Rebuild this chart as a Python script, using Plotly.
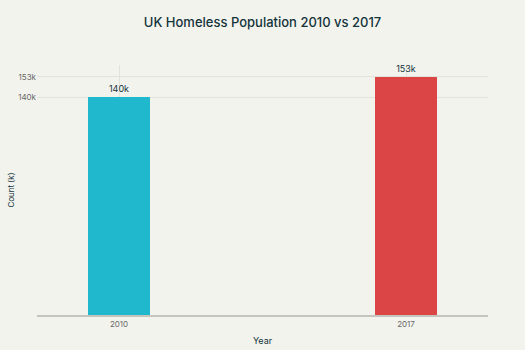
import plotly.graph_objects as go

years = [2010, 2017]
counts_k = [140, 153]
labels = ["140k", "153k"]
colors = ["#1FB8CD", "#DB4545"]
ytick_vals = [140, 153]
ytick_text = ["140k", "153k"]

fig = go.Figure()
fig.add_trace(go.Bar(
    x=years, y=counts_k, width=1.5,
    marker=dict(color=colors, line=dict(width=0)),
    text=labels, textposition="outside",
    textfont=dict(size=9, color="#13343B"),
    cliponaxis=False,
))
fig.update_layout(
    width=525, height=350,
    paper_bgcolor="#F3F3EE", plot_bgcolor="#F3F3EE",
    font=dict(family="Inter, Open Sans, sans-serif", color="#13343B"),
    title=dict(text="UK Homeless Population 2010 vs 2017", x=0.5, xanchor="center",
               y=0.937, yanchor="middle",
               font=dict(size=13, color="#13343B", weight=500)),
    margin=dict(l=37, r=37, t=65, b=35, autoexpand=False),
    showlegend=False,
    bargap=0,
)
fig.update_xaxes(
    range=[2008, 2019], tickvals=years, ticktext=[str(y) for y in years],
    showgrid=True, gridcolor="#E3E3DD", gridwidth=1,
    showline=True, linecolor="#C5C5BE", linewidth=2,
    ticks="", tickfont=dict(size=8, color="#666"),
    title=dict(text="Year", font=dict(size=9), standoff=10),
    zeroline=False, automargin=False,
)
fig.update_yaxes(
    range=[0, 160.6], tickvals=ytick_vals, ticktext=ytick_text,
    showgrid=True, gridcolor="#E3E3DD", gridwidth=1,
    showline=False, zeroline=False,
    ticks="", tickfont=dict(size=8, color="#666"),
    title=dict(text="Count (k)", font=dict(size=8), standoff=2),
    automargin=False,
)
fig.write_html("out.html")
